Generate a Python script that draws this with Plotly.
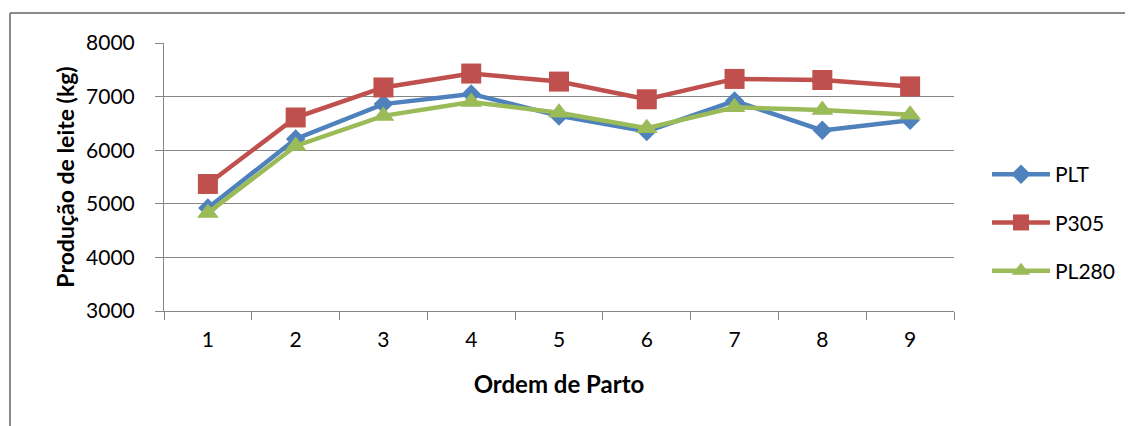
import plotly.graph_objects as go

categories = ["1", "2", "3", "4", "5", "6", "7", "8", "9"]
plt_vals = [4920, 6210, 6860, 7050, 6640, 6350, 6920, 6370, 6560]
p305_vals = [5370, 6610, 7170, 7430, 7280, 6950, 7330, 7310, 7190]
pl280_vals = [4830, 6080, 6640, 6900, 6700, 6410, 6800, 6750, 6660]
series_names = ["PLT", "P305", "PL280"]
y_ticks = [3000, 4000, 5000, 6000, 7000, 8000]

colors = ["#4F81BD", "#C0504D", "#9BBB59"]
symbols = ["diamond", "square", "triangle-up"]
sizes = [15, 20, 19]

# page is rendered with an 8px body margin; compensate so the chart lands where the reference is
OFF = 8
W, H = 1133 - OFF, 426 - OFF
left, top, right, bottom = 164 - OFF, 43 - OFF, 954 - OFF, 311 - OFF
pw, ph = right - left, bottom - top

fig = go.Figure()
for name, vals, color, symbol, size in zip(series_names, [plt_vals, p305_vals, pl280_vals],
                                           colors, symbols, sizes):
    fig.add_trace(go.Scatter(
        x=categories, y=vals, name=name, mode="lines+markers", legendgroup=name,
        line=dict(color=color, width=4.5),
        marker=dict(symbol=symbol, size=size, color=color),
    ))

font_family = "Lato, 'Open Sans', sans-serif"
axis_color = "#868686"
frame_color = "#8a8a8a"

def px_x(x):
    return (x - OFF - left) / pw

def px_y(y):
    return 1 - (y - OFF - top) / ph

fig.update_layout(
    width=W, height=H,
    margin=dict(l=left, r=W - right, t=top, b=H - bottom),
    paper_bgcolor="white", plot_bgcolor="white",
    font=dict(family=font_family, size=21, color="#000000"),
    showlegend=True,
    legend=dict(
        x=px_x(987), y=px_y(154), xanchor="left", yanchor="top",
        font=dict(size=21, family=font_family),
        itemwidth=58, tracegroupgap=18,
        bgcolor="rgba(0,0,0,0)",
    ),
    xaxis=dict(
        type="category", categoryorder="array", categoryarray=categories,
        showgrid=False, showline=True, linecolor=axis_color, linewidth=1,
        ticks="outside", tickson="boundaries", ticklen=8, tickcolor=axis_color,
        tickfont=dict(size=21), ticklabelstandoff=10,
        title=dict(text="<b>Ordem de Parto</b>", font=dict(size=24), standoff=25),
        range=[-0.5, 8.5],
    ),
    yaxis=dict(
        range=[3000, 8000], tickvals=y_ticks, tickformat="d",
        showgrid=True, gridcolor=axis_color, gridwidth=1,
        showline=True, linecolor=axis_color, linewidth=1,
        ticks="outside", ticklen=8, tickcolor=axis_color,
        tickfont=dict(size=21), ticklabelstandoff=16,
        title=dict(text="<b>Produção de leite (kg)</b>", font=dict(size=23), standoff=5),
        zeroline=False,
    ),
    shapes=[
        dict(type="line", xref="paper", yref="paper",
             x0=px_x(10), x1=px_x(1160), y0=px_y(13), y1=px_y(13),
             line=dict(color=frame_color, width=2)),
        dict(type="line", xref="paper", yref="paper",
             x0=px_x(10), x1=px_x(10), y0=px_y(13), y1=px_y(460),
             line=dict(color=frame_color, width=2)),
    ],
)

fig.write_html("out.html")
